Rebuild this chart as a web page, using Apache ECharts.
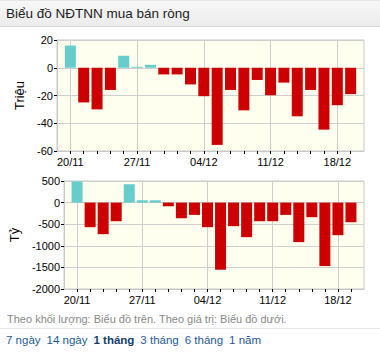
<!DOCTYPE html>
<html>
<head>
<meta charset="utf-8">
<script src="https://cdn.jsdelivr.net/npm/echarts@6/dist/echarts.min.js"></script>
<style>
  html, body { margin: 0; padding: 0; background: #fff; font-family: Arial, "Liberation Sans", sans-serif; }
  #wrap { position: relative; width: 380px; height: 352px; overflow: hidden; }
  #main { position: absolute; left: 0; top: 0; width: 380px; height: 352px; }
  #head { position: absolute; left: 0; top: 0; width: 380px; height: 27px; box-sizing: border-box;
          background: linear-gradient(#f7f7f7, #ececec); border-top: 1px solid #e4e4e4; border-bottom: 1px solid #d8d8d8;
          font-size: 13.5px; color: #222; line-height: 25px; padding-left: 6px; }
  #note { position: absolute; left: 7px; top: 313px; font-size: 11px; color: #888; white-space: nowrap; }
  #sep { position: absolute; left: 0; top: 328px; width: 380px; height: 1px; background: #e8e8e8; }
  #links { position: absolute; left: 6px; top: 334px; font-size: 11.5px; color: #1d5a96; white-space: nowrap; }
  #links span, #links b { display: inline-block; margin-right: 6px; }
  #links b { color: #123c6e; }
</style>
</head>
<body>
<div id="wrap">
  <div id="main"></div>
  <div id="head">Biểu đồ NĐTNN mua bán ròng</div>
  <div id="note">Theo khối lượng: Biểu đồ trên. Theo giá trị: Biểu đồ dưới.</div>
  <div id="sep"></div>
  <div id="links"><span>7 ngày</span><span>14 ngày</span><b>1 tháng</b><span>3 tháng</span><span>6 tháng</span><span>1 năm</span></div>
</div>
<script>
// ngày giao dịch
var dates = ['20/11','21/11','22/11','23/11','24/11','27/11','28/11','29/11','30/11','01/12',
             '04/12','05/12','06/12','07/12','08/12','11/12','12/12','13/12','14/12','15/12','18/12','19/12'];
// khối lượng mua bán ròng (triệu)
var volume = [16,-25,-30,-16,8.6,0.7,2.1,-4.8,-4.8,-12,-20.5,-55.6,-16,-30.7,-8.8,-19.8,-10.7,-35,-16,-44.6,-27,-19];
// giá trị mua bán ròng (tỷ)
var value = [490,-569,-731,-431,423,54,54,-85,-362,-285,-569,-1554,-546,-800,-431,-431,-285,-915,-338,-1469,-754,-454];
var volTicks = [-60, 20, 20];
var valTicks = [-2000, 500, 500];

var cats = [''].concat(dates, ['']);
function pad(arr) { return ['-'].concat(arr, ['-']); }
function showLabel(i, v) { return v !== '' && (i - 1) % 5 === 0; }
function barColor(p) { return p.value >= 0 ? '#66cccc' : '#cc0000'; }

var txt = { color: '#000', fontSize: 11, fontFamily: 'Arial, "Liberation Sans", sans-serif' };

function xAxis(gi) {
    return {
        type: 'category', gridIndex: gi, data: cats, boundaryGap: false,
        axisLine: { onZero: false, lineStyle: { color: '#c8c8c8' } },
        axisTick: { show: true, length: 3, interval: function (i, v) { return v !== ''; }, lineStyle: { color: '#000' } },
        axisLabel: Object.assign({ interval: showLabel, margin: 5 }, txt),
        splitLine: { show: true, interval: showLabel, lineStyle: { color: '#cfcfcf' } }
    };
}
function yAxis(gi, t, name, gap) {
    return {
        type: 'value', gridIndex: gi, min: t[0], max: t[1], interval: t[2],
        name: name, nameLocation: 'middle', nameGap: gap, nameRotate: 90,
        nameTextStyle: { color: '#000', fontSize: 13, fontFamily: 'Arial, "Liberation Sans", sans-serif' },
        axisLine: { show: true, lineStyle: { color: '#c8c8c8' } },
        axisTick: { show: true, length: 3, lineStyle: { color: '#000' } },
        axisLabel: Object.assign({ margin: 4, formatter: function (v) { return String(v); } }, txt),
        splitLine: { show: true, lineStyle: { color: '#cfcfcf' } }
    };
}

var myChart = echarts.init(document.getElementById('main'), null, { renderer: 'svg' });
var option = {
    animation: false,
    grid: [
        { left: 57, top: 40, width: 307, height: 111, show: true, backgroundColor: '#fffff0', borderColor: '#c8c8c8' },
        { left: 57, top: 181, width: 307, height: 108, show: true, backgroundColor: '#fffff0', borderColor: '#c8c8c8' }
    ],
    xAxis: [xAxis(0), xAxis(1)],
    yAxis: [yAxis(0, volTicks, 'Triệu', 24), yAxis(1, valTicks, 'Tỷ', 34)],
    series: [
        { type: 'bar', xAxisIndex: 0, yAxisIndex: 0, data: pad(volume), barWidth: 11, itemStyle: { color: barColor } },
        { type: 'bar', xAxisIndex: 1, yAxisIndex: 1, data: pad(value), barWidth: 11, itemStyle: { color: barColor } }
    ]
};
myChart.setOption(option);
</script>
</body>
</html>
